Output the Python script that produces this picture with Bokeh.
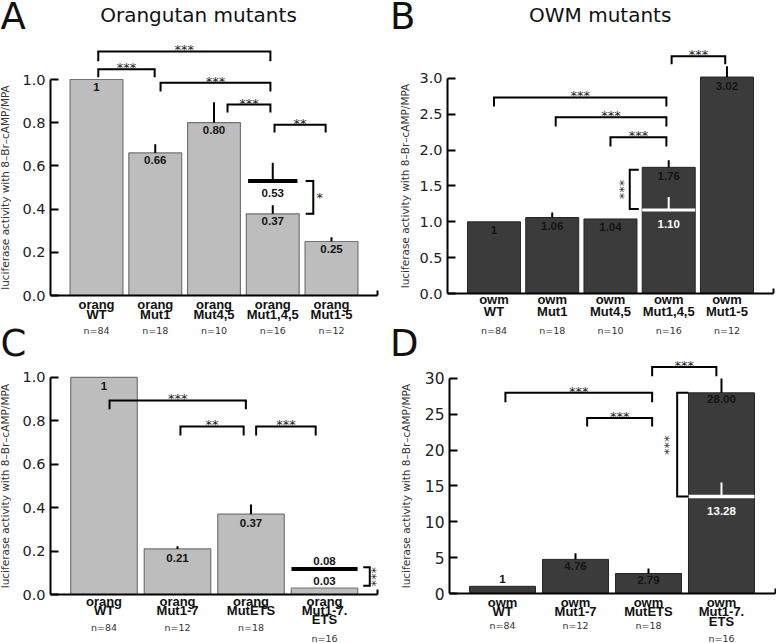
import math
from bokeh.plotting import figure
from bokeh.models import (ColumnDataSource, LabelSet, Label, FixedTicker, Range1d,
                          NumeralTickFormatter)
from bokeh.core.properties import value
from bokeh.layouts import column, row
from bokeh.embed import file_html
from bokeh.resources import INLINE

# ------------------------------------------------------------------ data
y_label = "luciferase activity with 8\u2013Br\u2013cAMP/MPA"

# Panel A : Orangutan mutants
a_title = "Orangutan mutants"
a_line1 = ["orang", "orang", "orang", "orang", "orang"]
a_line2 = ["WT", "Mut1", "Mut4,5", "Mut1,4,5", "Mut1-5"]
a_line3 = ["", "", "", "", ""]
a_n = ["n=84", "n=18", "n=10", "n=16", "n=12"]
a_values = [1.0, 0.66, 0.80, 0.378, 0.25]
a_value_text = ["1", "0.66", "0.80", "0.37", "0.25"]
a_err_up = [0.0, 0.04, 0.095, 0.04, 0.02]
a_yticks = [0.0, 0.2, 0.4, 0.6, 0.8, 1.0]
a_br_left = [1.03, 1.03, 2.09, 3.23, 4.03]
a_br_right = [3.96, 1.99, 3.96, 3.96, 4.90]
a_br_top = [1.13, 1.047, 0.985, 0.884, 0.79]
a_br_foot = [1.085, 1.01, 0.944, 0.847, 0.755]
a_br_text = ["***", "***", "***", "***", "**"]
a_ov_bar = 4
a_ov_level = 0.53
a_ov_err = 0.085
a_ov_text = "0.53"
a_vb_tick, a_vb_line, a_vb_top, a_vb_bot = 4.56, 4.69, 0.53, 0.378
a_vb_text, a_vb_text_x, a_vb_text_y = "*", 4.80, 0.454

# Panel B : OWM mutants
b_title = "OWM mutants"
b_line1 = ["owm", "owm", "owm", "owm", "owm"]
b_line2 = ["WT", "Mut1", "Mut4,5", "Mut1,4,5", "Mut1-5"]
b_line3 = ["", "", "", "", ""]
b_n = ["n=84", "n=18", "n=10", "n=16", "n=12"]
b_values = [1.0, 1.06, 1.04, 1.76, 3.02]
b_value_text = ["1", "1.06", "1.04", "1.76", "3.02"]
b_err_up = [0.0, 0.07, 0.0, 0.10, 0.15]
b_yticks = [0.0, 0.5, 1.0, 1.5, 2.0, 2.5, 3.0]
b_br_left = [1.0, 2.06, 3.0, 4.05]
b_br_right = [3.96, 3.96, 3.96, 4.97]
b_br_top = [2.735, 2.46, 2.18, 3.31]
b_br_foot = [2.61, 2.33, 2.05, 3.20]
b_br_text = ["***", "***", "***", "***"]
b_ov_bar = 4
b_ov_level = 1.165
b_ov_err = 0.18
b_ov_text = "1.10"
b_vb_tick, b_vb_line, b_vb_top, b_vb_bot = 3.486, 3.331, 1.726, 1.18
b_vb_text, b_vb_text_x, b_vb_text_y = "***", 3.228, 1.45

# Panel C : orangutan, ETS mutants
c_line1 = ["orang", "orang", "orang", "orang"]
c_line2 = ["WT", "Mut1-7", "MutETS", "Mut1-7."]
c_line3 = ["", "", "", "ETS"]
c_n = ["n=84", "n=12", "n=18", "n=16"]
c_values = [1.0, 0.21, 0.37, 0.03]
c_value_text = ["1", "0.21", "0.37", "0.03"]
c_err_up = [0.0, 0.012, 0.045, 0.0]
c_yticks = [0.0, 0.2, 0.4, 0.6, 0.8, 1.0]
c_br_left = [1.075, 2.04, 3.07]
c_br_right = [2.93, 2.90, 3.88]
c_br_top = [0.894, 0.774, 0.774]
c_br_foot = [0.853, 0.733, 0.733]
c_br_text = ["***", "**", "***"]
c_ov_bar = 4
c_ov_level = 0.118
c_ov_err = 0.0
c_ov_text = "0.08"
c_vb_tick, c_vb_line, c_vb_top, c_vb_bot = 4.527, 4.616, 0.125, 0.04
c_vb_text, c_vb_text_x, c_vb_text_y = "***", 4.69, 0.082

# Panel D : OWM, ETS mutants
d_line1 = ["owm", "owm", "owm", "owm"]
d_line2 = ["WT", "Mut1-7", "MutETS", "Mut1-7."]
d_line3 = ["", "", "", "ETS"]
d_n = ["n=84", "n=12", "n=18", "n=16"]
d_values = [1.0, 4.76, 2.79, 28.0]
d_value_text = ["1", "4.76", "2.79", "28.00"]
d_err_up = [0.0, 0.85, 0.7, 2.0]
d_yticks = [0, 5, 10, 15, 20, 25, 30]
d_br_left = [1.04, 2.16, 3.05]
d_br_right = [3.05, 3.05, 3.93]
d_br_top = [28.0, 24.5, 31.6]
d_br_foot = [26.7, 23.3, 30.3]
d_br_text = ["***", "***", "***"]
d_ov_bar = 4
d_ov_level = 13.55
d_ov_err = 1.95
d_ov_text = "13.28"
d_vb_tick, d_vb_line, d_vb_top, d_vb_bot = 3.548, 3.393, 28.0, 13.55
d_vb_text, d_vb_text_x, d_vb_text_y = "***", 3.278, 20.7

# ------------------------------------------------------------------ styling
FONT = "DejaVu Sans"
BOLD = "Liberation Sans"
LIGHT_FILL, LIGHT_LINE = "#bdbdbd", "#747474"
DARK_FILL, DARK_LINE = "#3b3b3b", "#262626"
STAR_COLOR = "#222222"


def base_fig(W, H, bl, br, bt, bb, xr, yr, yticks, yfmt, tick_size, ylab_standoff):
    # the plotting frame covers the whole figure; the axes are pinned at the
    # inner "axes box" (bl/br/bt/bb pixels in from the edges) so that texts
    # outside the axes box are not clipped.
    pxx = (W - bl - br) / (xr[1] - xr[0])
    pxy = (H - bt - bb) / (yr[1] - yr[0])
    full_x = (xr[0] - bl / pxx, xr[1] + br / pxx)
    full_y = (yr[0] - bb / pxy, yr[1] + bt / pxy)
    p = figure(width=W, height=H, x_range=Range1d(*full_x), y_range=Range1d(*full_y),
               output_backend="svg", toolbar_location=None, min_border=0,
               min_border_left=0, min_border_right=0, min_border_top=0, min_border_bottom=0)
    p.outline_line_color = None
    p.xgrid.visible = False
    p.ygrid.visible = False
    p.background_fill_color = "white"
    p.border_fill_color = "white"
    ya = p.yaxis[0]
    ya.fixed_location = xr[0]
    ya.ticker = FixedTicker(ticks=yticks)
    ya.formatter = NumeralTickFormatter(format=yfmt)
    ya.bounds = (yticks[0], yticks[-1])
    ya.major_tick_in = 8
    ya.major_tick_out = 0
    ya.minor_tick_line_color = None
    ya.axis_line_width = 2
    ya.major_tick_line_width = 2
    ya.axis_line_color = "black"
    ya.major_tick_line_color = "black"
    ya.major_label_text_font = FONT
    ya.major_label_text_font_size = tick_size
    ya.major_label_text_color = "#222222"
    ya.major_label_standoff = 5
    ya.axis_label = y_label
    ya.axis_label_text_font = FONT
    ya.axis_label_text_font_size = "10.5px"
    ya.axis_label_text_font_style = "normal"
    ya.axis_label_text_color = "#333333"
    ya.axis_label_standoff = ylab_standoff
    xa = p.xaxis[0]
    xa.fixed_location = yr[0]
    xa.bounds = (xr[0], xr[1])
    # only a short upward mark at the right end of the x axis (a minor tick, no label)
    xa.ticker = FixedTicker(ticks=[], minor_ticks=[xr[1] - 0.004])
    xa.major_tick_line_color = None
    xa.minor_tick_in = 5
    xa.minor_tick_out = 0
    xa.minor_tick_line_width = 2
    xa.minor_tick_line_color = "black"
    xa.axis_line_width = 2
    xa.axis_line_color = "black"
    return p


def labelset(src, text, off, font, size, color, bold=False):
    return LabelSet(x="x", y="y", text=text, y_offset=off, source=src,
                    text_align="center", text_baseline="alphabetic",
                    text_font=value(font), text_font_style=("bold" if bold else "normal"),
                    text_font_size=value(size), text_color=value(color))


def draw_panel(p, vals, vtext, err, bw, fill, line, lw, px_per_unit, inside_off,
               l1, l2, l3, nn, offs,
               brl, brr, brt, brf, brtext):
    xs = list(range(1, len(vals) + 1))
    src = ColumnDataSource(dict(x=xs, top=vals))
    p.vbar(x="x", top="top", bottom=0, width=bw, source=src,
           fill_color=fill, line_color=line, line_width=lw)
    # upper error whiskers
    ex = [x for x, e in zip(xs, err) if e > 0]
    ey0 = [v for v, e in zip(vals, err) if e > 0]
    ey1 = [v + e for v, e in zip(vals, err) if e > 0]
    p.segment(x0=ex, y0=ey0, x1=ex, y1=ey1, line_color="black", line_width=2)
    # value labels (inside the bar, or above it if the bar is short)
    voff = [(-inside_off if v * px_per_unit > 14 else 3) for v in vals]
    vsrc = ColumnDataSource(dict(x=xs, y=vals, t=vtext, off=voff))
    p.add_layout(labelset(vsrc, "t", "off", BOLD, "11.5px", "#141414", True))
    # category labels
    o1, o2, o3, on, on3 = offs
    zeros = [0] * len(xs)
    noff = [-(on3 if t3 else on) for t3 in l3]
    csrc = ColumnDataSource(dict(x=xs, y=zeros, l1=l1, l2=l2, n=nn, noff=noff))
    p.add_layout(labelset(csrc, "l1", -o1, BOLD, "13px", "#111111", True))
    p.add_layout(labelset(csrc, "l2", -o2, BOLD, "13px", "#111111", True))
    x3 = [x for x, t in zip(xs, l3) if t]
    if x3:
        src3 = ColumnDataSource(dict(x=x3, y=[0] * len(x3), l3=[t for t in l3 if t]))
        p.add_layout(labelset(src3, "l3", -o3, BOLD, "13px", "#111111", True))
    p.add_layout(labelset(csrc, "n", "noff", FONT, "9.5px", "#333333"))
    # significance brackets
    bxs = [[l, l, r, r] for l, r in zip(brl, brr)]
    bys = [[f, t, t, f] for t, f in zip(brt, brf)]
    p.multi_line(xs=bxs, ys=bys, line_color="black", line_width=2, line_join="miter")
    ssrc = ColumnDataSource(dict(x=[(l + r) / 2 for l, r in zip(brl, brr)], y=brt, t=brtext))
    p.add_layout(labelset(ssrc, "t", -3, FONT, "13px", STAR_COLOR))


def add_overlay(p, xc, half, level, err, color, lw, text, text_off):
    p.segment(x0=[xc - half], y0=[level], x1=[xc + half], y1=[level],
              line_color=color, line_width=lw)
    if err > 0:
        p.segment(x0=[xc], y0=[level], x1=[xc], y1=[level + err],
                  line_color=color, line_width=2)
    p.add_layout(Label(x=xc, y=level, text=text, y_offset=text_off,
                       text_align="center", text_baseline="alphabetic",
                       text_font=BOLD, text_font_style="bold", text_font_size="11.5px",
                       text_color=("#141414" if color == "black" else "white")))


def add_vbracket(p, tick, line, top, bot, text, tx, ty, rotated):
    p.multi_line(xs=[[tick, line, line, tick]], ys=[[top, top, bot, bot]],
                 line_color="black", line_width=2, line_join="miter")
    p.add_layout(Label(x=tx, y=ty, text=text, angle=(math.pi / 2 if rotated else 0),
                       text_align="center", text_baseline="middle",
                       text_font=FONT, text_font_size="13px", text_color=STAR_COLOR))


def add_text(p, x, y, xo, yo, text, size, align="left"):
    p.add_layout(Label(x=x, y=y, x_offset=xo, y_offset=yo, text=text,
                       text_align=align, text_baseline="alphabetic",
                       text_font=FONT, text_font_size=size, text_color="#111111"))


# ------------------------------------------------------------------ panel A
xrA = (0.217, 5.783)
yrA = (0.0, 1.1806)
pA = base_fig(388, 358, 50, 11, 40, 63, xrA, yrA, a_yticks, "0.0", "14.5px", 8)
draw_panel(pA, a_values, a_value_text, a_err_up, 0.9, LIGHT_FILL, LIGHT_LINE, 1.2,
           216, 11.5, a_line1, a_line2, a_line3, a_n, (13, 23, 32, 38, 48),
           a_br_left, a_br_right, a_br_top, a_br_foot, a_br_text)
add_overlay(pA, a_ov_bar, 0.42, a_ov_level, a_ov_err, "black", 4, a_ov_text, -12)
add_vbracket(pA, a_vb_tick, a_vb_line, a_vb_top, a_vb_bot, a_vb_text, a_vb_text_x, a_vb_text_y, False)
add_text(pA, xrA[0], yrA[1], -50, 24.5, "A", "37px")
add_text(pA, xrA[0], yrA[1], 148, 25.5, a_title, "20px", "center")
add_text(pA, xrA[0], 0, -50, -48, "C", "37px")

# ------------------------------------------------------------------ panel B
xrB = (0.202, 5.799)
yrB = (0.0, 3.530)
pB = base_fig(388, 358, 59, 3, 40, 65, xrB, yrB, b_yticks, "0.0", "14.5px", 5)
draw_panel(pB, b_values, b_value_text, b_err_up, 0.91, DARK_FILL, DARK_LINE, 1,
           71.67, 12.5, b_line1, b_line2, b_line3, b_n, (10.5, 22, 32, 40, 48),
           b_br_left, b_br_right, b_br_top, b_br_foot, b_br_text)
add_overlay(pB, b_ov_bar, 0.455, b_ov_level, b_ov_err, "white", 3, b_ov_text, -13.5)
add_vbracket(pB, b_vb_tick, b_vb_line, b_vb_top, b_vb_bot, b_vb_text, b_vb_text_x, b_vb_text_y, True)
add_text(pB, xrB[0], yrB[1], -57.5, 24.5, "B", "37px")
add_text(pB, xrB[0], yrB[1], 152.7, 25.8, b_title, "20px", "center")
add_text(pB, xrB[0], 0, -57.5, -50, "D", "37px")

# ------------------------------------------------------------------ panel C
xrC = (0.272, 4.721)
yrC = (0.0, 1.078)
pC = base_fig(388, 285, 50, 11, 2, 49, xrC, yrC, c_yticks, "0.0", "14.5px", 8)
draw_panel(pC, c_values, c_value_text, c_err_up, 0.905, LIGHT_FILL, LIGHT_LINE, 1.2,
           217, 13, c_line1, c_line2, c_line3, c_n, (11, 20, 29, 36, 47),
           c_br_left, c_br_right, c_br_top, c_br_foot, c_br_text)
add_overlay(pC, c_ov_bar, 0.45, c_ov_level, c_ov_err, "black", 4, c_ov_text, 7.5)
add_vbracket(pC, c_vb_tick, c_vb_line, c_vb_top, c_vb_bot, c_vb_text, c_vb_text_x, c_vb_text_y, True)

# ------------------------------------------------------------------ panel D
xrD = (0.274, 4.740)
yrD = (0.0, 32.65)
pD = base_fig(388, 285, 61, 1, 1, 50, xrD, yrD, d_yticks, "0", "15.5px", 10)
draw_panel(pD, d_values, d_value_text, d_err_up, 0.904, DARK_FILL, DARK_LINE, 1,
           7.167, 10.5, d_line1, d_line2, d_line3, d_n, (13.5, 22, 32, 35, 48),
           d_br_left, d_br_right, d_br_top, d_br_foot, d_br_text)
add_overlay(pD, d_ov_bar, 0.452, d_ov_level, d_ov_err, "white", 3.5, d_ov_text, -14.5)
add_vbracket(pD, d_vb_tick, d_vb_line, d_vb_top, d_vb_bot, d_vb_text, d_vb_text_x, d_vb_text_y, True)

layout = column(row(pA, pB), row(pC, pD))
open("out.html", "w").write(file_html(layout, INLINE))
